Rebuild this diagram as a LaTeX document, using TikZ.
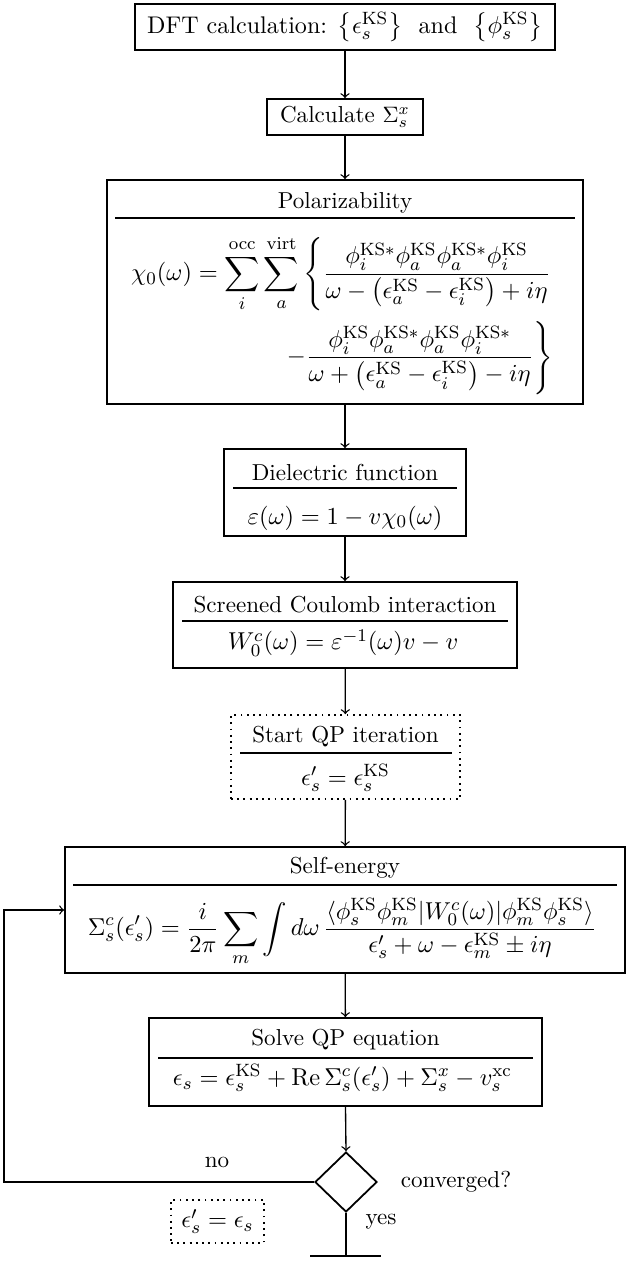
\documentclass[tikz,border=0pt]{standalone}
\usepackage{amsmath}
\usetikzlibrary{shapes.geometric}
\newcommand{\KS}{\mathrm{KS}}
\begin{document}
\begin{tikzpicture}[x=0.01576cm,y=-0.01576cm,
  every node/.style={font=\fontsize{10.35}{12.4}\selectfont},
  sz/.style 2 args={minimum width=#1*0.01576cm,minimum height=#2*0.01576cm},
  boxnode/.style={draw,thick,inner sep=0pt,anchor=center},
  dotbox/.style={draw,thick,dotted,inner sep=0pt,anchor=center},
  txt/.style={inner sep=0pt,anchor=center},
  mth/.style={inner sep=0pt,anchor=center,font=\fontsize{11.1}{13.3}\selectfont},
  hrule/.style={line width=0.5pt},
  arr/.style={->,semithick}]
\useasboundingbox (0,0) rectangle (630,1261);
% boxes
\node[boxnode,sz={420}{46},font=\fontsize{10.8}{13}\selectfont] (dft) at (345,27)
  {DFT calculation: $\left\{\epsilon_s^{\KS}\right\}$\ \ and\ \ $\left\{\phi_s^{\KS}\right\}$};
\node[boxnode,sz={156}{36}] (calc) at (345,117)
  {Calculate $\Sigma_s^x$};
\node[boxnode,sz={476}{224}] (pol) at (345,292) {};
\node[txt] (polt) at (345,203) {Polarizability};
\draw[hrule] (115,218) -- (575,218);
\node[mth] (polf) at (342,315) {$\displaystyle
 \begin{aligned}
 \chi_0(\omega) = \sum_{i}^{\mathrm{occ}}\sum_{a}^{\mathrm{virt}}
 \left\{\frac{\phi_i^{\KS*}\phi_a^{\KS}\phi_a^{\KS*}\phi_i^{\KS}}{\omega-\left(\epsilon_a^{\KS}-\epsilon_i^{\KS}\right)+i\eta}\right.\\
 \left.-\frac{\phi_i^{\KS}\phi_a^{\KS*}\phi_a^{\KS}\phi_i^{\KS*}}{\omega+\left(\epsilon_a^{\KS}-\epsilon_i^{\KS}\right)-i\eta}\right\}
 \end{aligned}$};
\node[boxnode,sz={242}{87}] (diel) at (345,492.5) {};
\node[txt] (dielt) at (345,472) {Dielectric function};
\draw[hrule] (233,488) -- (457,488);
\node[mth] (dielf) at (345,518) {$\varepsilon(\omega)=1-v\chi_0(\omega)$};
\node[boxnode,sz={344}{86}] (scr) at (345,625) {};
\node[txt] (scrt) at (345,605) {Screened Coulomb interaction};
\draw[hrule] (182,621) -- (508,621);
\node[mth] (scrf) at (343,643) {$W_0^c(\omega)=\varepsilon^{-1}(\omega)v-v$};
\node[dotbox,sz={229}{84}] (start) at (345.5,757) {};
\node[txt] (startt) at (345.5,737) {Start QP iteration};
\draw[hrule] (240,753) -- (452,753);
\node[mth] (startf) at (345.5,778) {$\epsilon'_s=\epsilon_s^{\KS}$};
\node[boxnode,sz={560}{126}] (self) at (345,910) {};
\node[txt] (selft) at (345,868) {Self-energy};
\draw[hrule] (73,885) -- (617,885);
\node[mth] (selff) at (342,932) {$\displaystyle
 \Sigma_s^c(\epsilon'_s)=\frac{i}{2\pi}\sum_m\int d\omega\,
 \frac{\langle\phi_s^{\KS}\phi_m^{\KS}|W_0^c(\omega)|\phi_m^{\KS}\phi_s^{\KS}\rangle}{\epsilon'_s+\omega-\epsilon_m^{\KS}\pm i\eta}$};
\node[boxnode,sz={393}{88}] (solve) at (345.5,1062) {};
\node[txt] (solvet) at (345.5,1040) {Solve QP equation};
\draw[hrule] (158,1058) -- (533,1058);
\node[mth] (solvef) at (342.5,1078) {$\epsilon_s=\epsilon_s^{\KS}+\mathrm{Re}\,\Sigma_s^c(\epsilon'_s)+\Sigma_s^x-v_s^{\mathrm{xc}}$};
\node[draw,thick,diamond,sz={62}{60},inner sep=0pt] (dec) at (346,1182) {};
\node[txt] (conv) at (456,1182) {converged?};
\node[txt] (no) at (217,1162) {no};
\node[txt] (yes) at (381,1222) {yes};
\node[dotbox,sz={93}{43},font=\fontsize{11.1}{13.3}\selectfont] (upd) at (217.5,1221.5) {$\epsilon'_s=\epsilon_s$};
\coordinate (fbc) at (4,1182);
\coordinate (endc) at (346,1256);
\coordinate (endL) at (310,1256);
\coordinate (endR) at (381,1256);
% connectors
\draw[arr] (dft) -- (calc);
\draw[arr] (calc) -- (pol);
\draw[arr] (pol) -- (diel);
\draw[arr] (diel) -- (scr);
\draw[arr] (scr) -- (start);
\draw[arr] (start) -- (self);
\draw[arr] (self) -- (solve);
\draw[arr] (solve.south) -- (dec.north);
\draw[arr] (dec.west) -- (fbc) |- (self.west);
\draw[semithick] (dec.south) -- (endc);
\draw[thick] (endL) -- (endR);
\end{tikzpicture}
\end{document}
